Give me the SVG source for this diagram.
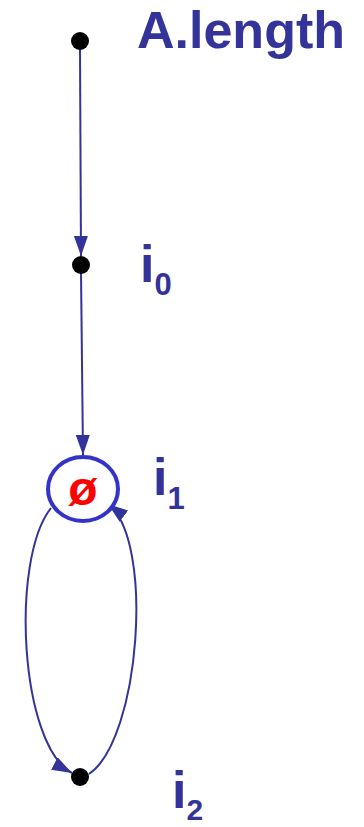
<svg xmlns="http://www.w3.org/2000/svg" width="364" height="827" viewBox="0 0 364 827">
<style>
.lbl{font-family:"Liberation Sans",Arial,sans-serif;font-weight:bold;fill:#333399}
.dot{fill:#000}
.edge{fill:none;stroke:#333399;stroke-width:2}
</style>
<defs>
<marker id="arr" markerUnits="userSpaceOnUse" markerWidth="22" markerHeight="16" refX="20" refY="7" orient="auto">
<path d="M0,0 L20,7 L0,14 Z" fill="#333399"/>
</marker>
</defs>
<rect width="364" height="827" fill="#fff"/>
<g id="connectors">
<path class="edge" d="M80,48 L81,256" marker-end="url(#arr)"/>
<path class="edge" d="M81,272 L83,455" marker-end="url(#arr)"/>
<path class="edge" d="M51,508 C10,560 20,745 72,773" marker-end="url(#arr)"/>
<path class="edge" d="M89,774 C140,740 155,540 108,504" marker-end="url(#arr)"/>
</g>
<g id="nodeA">
<circle class="dot" cx="80" cy="41" r="9"/>
<text class="lbl" x="137" y="48" font-size="52">A.length</text>
</g>
<g id="node_i0">
<circle class="dot" cx="81" cy="265" r="9"/>
<text class="lbl" x="140" y="282" font-size="52">i<tspan font-size="31" dy="13">0</tspan></text>
</g>
<g id="node_i1">
<ellipse cx="83" cy="489" rx="35" ry="32" fill="#fff" stroke="#3333cc" stroke-width="4"/>
<text x="83" y="505" font-size="48" text-anchor="middle" font-family="Liberation Sans,Arial,sans-serif" font-weight="bold" fill="#ff0000">ø</text>
<text class="lbl" x="153" y="495" font-size="52">i<tspan font-size="31" dy="14">1</tspan></text>
</g>
<g id="node_i2">
<circle class="dot" cx="80" cy="777" r="9"/>
<text class="lbl" x="172" y="808" font-size="52">i<tspan font-size="30" dy="12">2</tspan></text>
</g>
</svg>
